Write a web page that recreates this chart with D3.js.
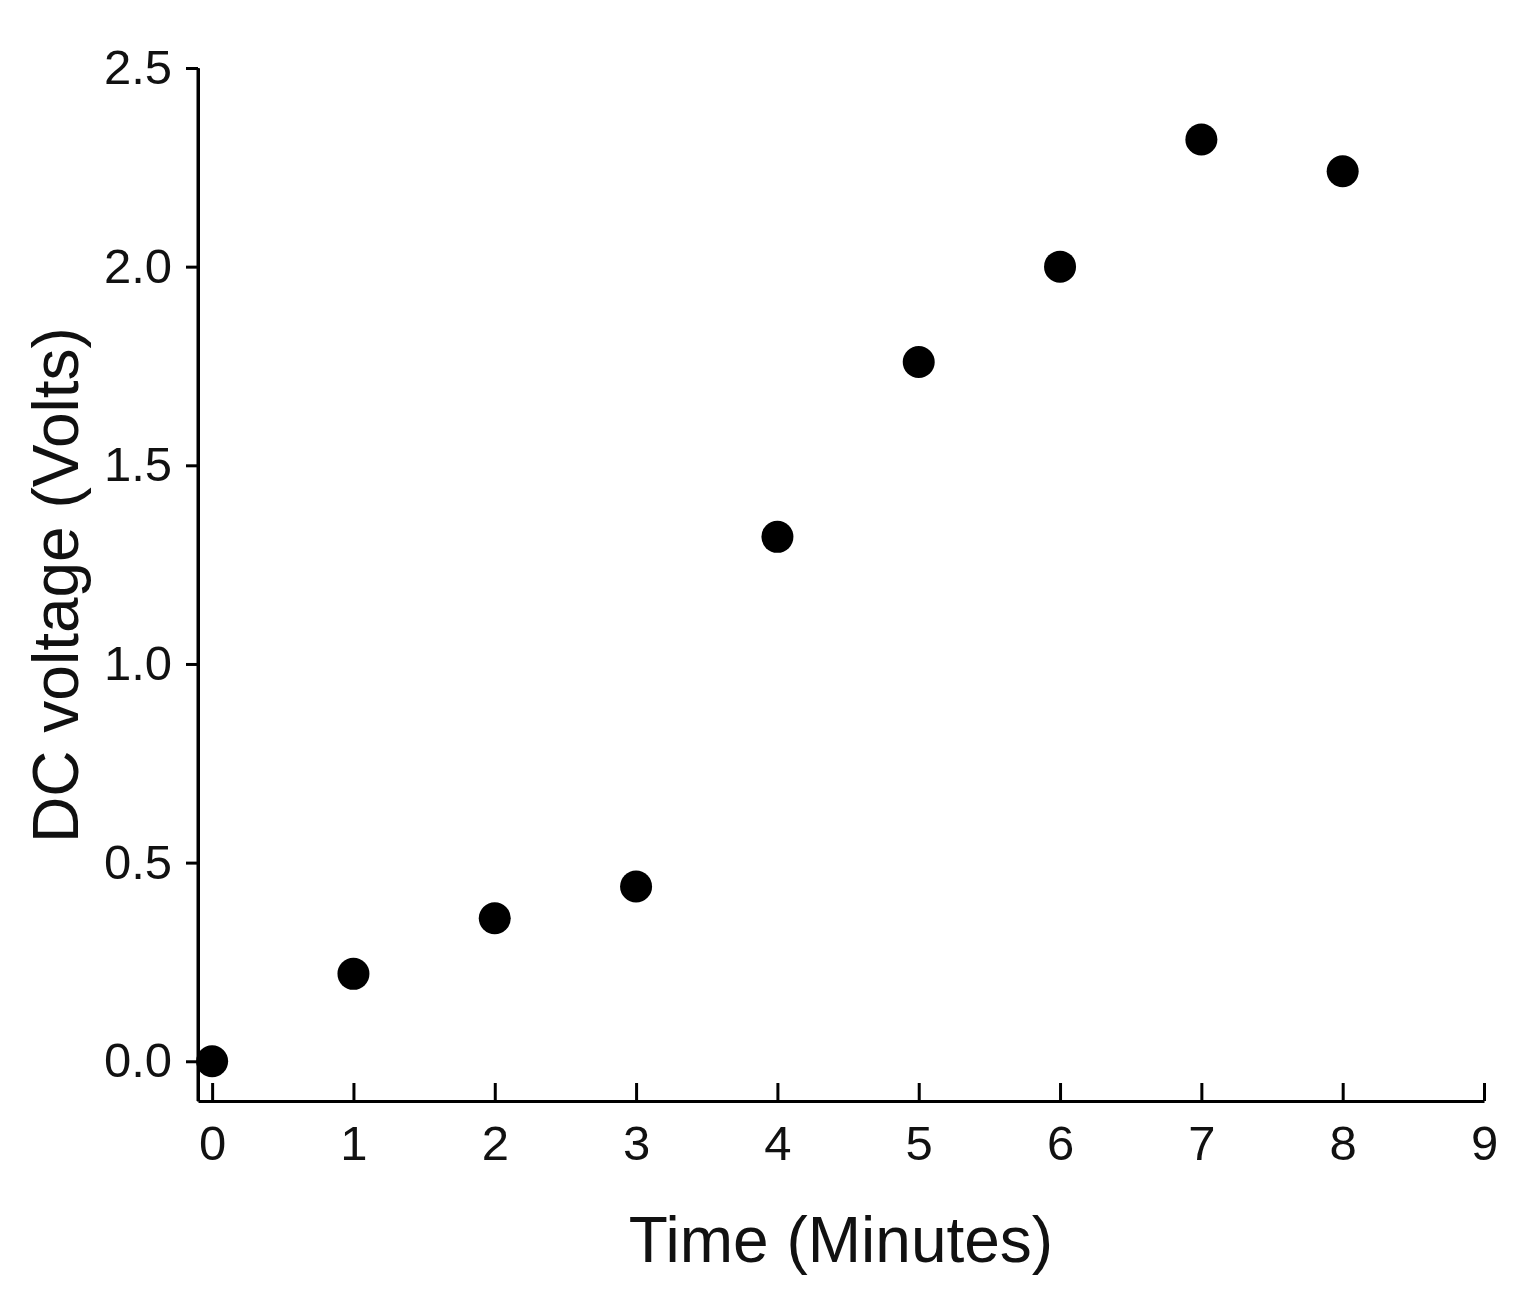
<!DOCTYPE html><html><head><script src="https://cdn.jsdelivr.net/npm/d3@7"></script>
<style>body{margin:0;background:#fff}</style></head><body><script>
const times=[0,1,2,3,4,5,6,7,8];
const volts=[0,0.22,0.36,0.44,1.32,1.76,2.0,2.32,2.24];
const xTicks=[0,1,2,3,4,5,6,7,8,9];
const yTicks=[0,0.5,1.0,1.5,2.0,2.5];
const W=1525,H=1292;
const svg=d3.select("body").append("svg").attr("width",W).attr("height",H);
const x=d3.scaleLinear().domain([-0.1,9]).range([198,1484]);
const y=d3.scaleLinear().domain([-0.1,2.5]).range([1101,68]);
const font="Arial, 'Liberation Sans', sans-serif";
const gx=svg.append("g").attr("transform","translate(0,1101)")
 .call(d3.axisBottom(x).tickValues(xTicks).tickFormat(d3.format("d")).tickSizeInner(-18).tickSizeOuter(0).tickPadding(24));
const gy=svg.append("g").attr("transform","translate(198,0)")
 .call(d3.axisLeft(y).tickValues(yTicks).tickFormat(d3.format(".1f")).tickSizeInner(12).tickSizeOuter(0).tickPadding(14));
[gx,gy].forEach(g=>{g.selectAll("path,line").attr("stroke","#000").attr("stroke-width",3);
 g.selectAll("text").attr("font-family",font).attr("font-size",49).attr("fill","#111");});
svg.append("line").attr("x1",198).attr("x2",198).attr("y1",1101).attr("y2",68).attr("stroke","#000").attr("stroke-width",3);
svg.selectAll("circle.p").data(times).enter().append("circle")
 .attr("cx",(d)=>x(d)).attr("cy",(d,i)=>y(volts[i])).attr("r",16).attr("fill","#000");
svg.append("text").attr("x",841).attr("y",1262).attr("text-anchor","middle").attr("font-family",font).attr("font-size",64).attr("fill","#111").text("Time (Minutes)");
svg.append("text").attr("transform","translate(78,585) rotate(-90)").attr("text-anchor","middle").attr("font-family",font).attr("font-size",64).attr("fill","#111").text("DC voltage (Volts)");
</script></body></html>
